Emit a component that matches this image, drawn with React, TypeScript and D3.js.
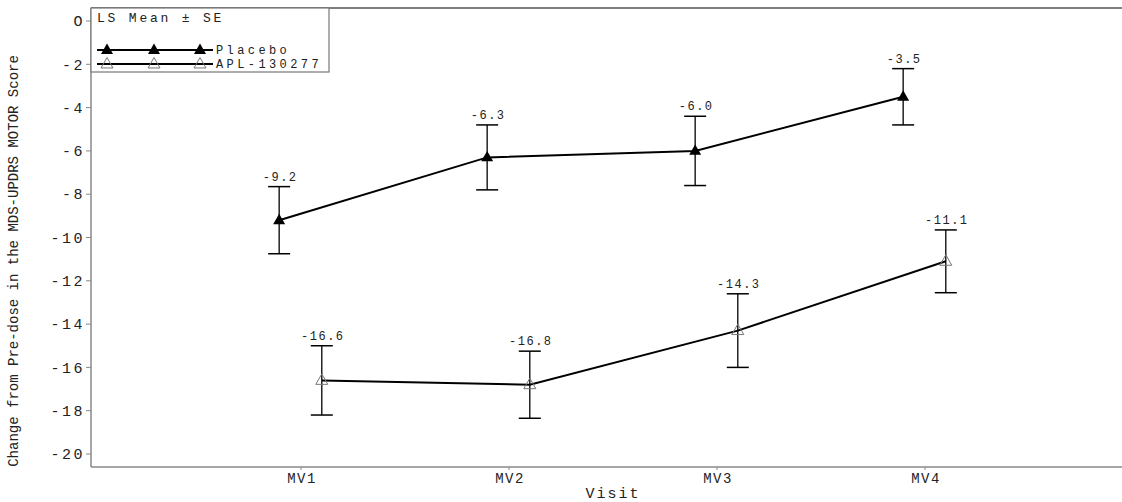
import React from "react";
import * as d3 from "d3";

const visits = ["MV1", "MV2", "MV3", "MV4"];
const placeboMean = [-9.2, -6.3, -6.0, -3.5];
const placeboSE = [1.55, 1.5, 1.6, 1.3];
const aplMean = [-16.6, -16.8, -14.3, -11.1];
const aplSE = [1.6, 1.55, 1.7, 1.45];
const yTicks = [0, -2, -4, -6, -8, -10, -12, -14, -16, -18, -20];

const W = 1122, H = 502;
const L = 91, T = 8, B = 467;
const FONT = "'Liberation Mono', 'DejaVu Sans Mono', monospace";

export default function App() {
  const x = d3.scaleLinear().domain([0, 5]).range([93, 93 + 5 * 208]);
  const y = d3.scaleLinear().domain([0, -20]).range([21, 454]);
  const line = d3.line<[number, number]>().x(d => d[0]).y(d => d[1]);

  const series = [
    { name: "Placebo", mean: placeboMean, se: placeboSE, off: -0.105, filled: true },
    { name: "APL-130277", mean: aplMean, se: aplSE, off: 0.1, filled: false },
  ];

  const tri = (cx: number, cy: number, s: number) => {
    const h = s * 0.87;
    return `M${cx},${cy - h * 0.62}L${cx + s / 2},${cy + h * 0.38}L${cx - s / 2},${cy + h * 0.38}Z`;
  };

  const marker = (cx: number, cy: number, filled: boolean, key: string) =>
    filled ? (
      <path key={key} d={tri(cx, cy, 12)} fill="#000" />
    ) : (
      <path key={key} d={tri(cx, cy, 12)} fill="none" stroke="#777" strokeWidth={1} />
    );

  return (
    <svg width={W} height={H} style={{ position: "absolute", left: 0, top: 0, background: "#fff" }}>
      <rect x={0} y={0} width={W} height={H} fill="#fff" />
      {/* frame */}
      <line x1={L} x2={W} y1={T} y2={T} stroke="#555" strokeWidth={1.5} />
      <line x1={L} x2={L} y1={T} y2={B} stroke="#888" strokeWidth={1.5} />
      <line x1={L} x2={W} y1={B} y2={B} stroke="#888" strokeWidth={1.5} />
      {/* y ticks */}
      {yTicks.map(t => (
        <g key={t}>
          <line x1={L - 5} x2={L} y1={y(t)} y2={y(t)} stroke="#888" strokeWidth={1} />
          <text x={L - 6} y={y(t)} dy="0.35em" textAnchor="end" fontFamily={FONT} fontSize={15} letterSpacing={2.5} fill="#222">
            {t === 0 ? "O" : String(t)}
          </text>
        </g>
      ))}
      {/* x ticks */}
      {visits.map((v, i) => (
        <g key={v}>
          <line x1={x(i + 1)} x2={x(i + 1)} y1={B} y2={B + 3} stroke="#888" strokeWidth={1} />
          <text x={x(i + 1) + 1} y={B + 16} textAnchor="middle" fontFamily={FONT} fontSize={14} letterSpacing={1.5} fill="#222">
            {v}
          </text>
        </g>
      ))}
      <text x={613} y={498} textAnchor="middle" fontFamily={FONT} fontSize={15} letterSpacing={2} fill="#222">Visit</text>
      <text transform={`translate(18,261) rotate(-90)`} textAnchor="middle" fontFamily={FONT} fontSize={14} fill="#222">
        Change from Pre-dose in the MDS-UPDRS MOTOR Score
      </text>
      {/* series */}
      {series.map(s => {
        const pts: [number, number][] = s.mean.map((m, i) => [x(i + 1 + s.off), y(m)]);
        return (
          <g key={s.name}>
            <path d={line(pts) || ""} fill="none" stroke="#000" strokeWidth={2} />
            {s.mean.map((m, i) => {
              const cx = x(i + 1 + s.off);
              const top = y(m + s.se[i]), bot = y(m - s.se[i]);
              return (
                <g key={i}>
                  <line x1={cx} x2={cx} y1={top} y2={bot} stroke="#000" strokeWidth={1.3} />
                  <line x1={cx - 11} x2={cx + 11} y1={top} y2={top} stroke="#000" strokeWidth={1.5} />
                  <line x1={cx - 11} x2={cx + 11} y1={bot} y2={bot} stroke="#000" strokeWidth={1.5} />
                  {marker(cx, y(m), s.filled, "m" + i)}
                  <text x={cx + 1} y={top - 6} textAnchor="middle" fontFamily={FONT} fontSize={12} letterSpacing={1.5} fill="#222">
                    {m.toFixed(1)}
                  </text>
                </g>
              );
            })}
          </g>
        );
      })}
      {/* legend */}
      <rect x={L} y={T} width={238} height={64} fill="#fff" stroke="#777" strokeWidth={1.2} />
      <text x={97} y={22} fontFamily={FONT} fontSize={13} letterSpacing={2.8} fill="#222">LS Mean ± SE</text>
      {series.map((s, k) => {
        const ly = k === 0 ? 50 : 64;
        return (
          <g key={s.name}>
            <line x1={97} x2={213} y1={ly} y2={ly} stroke="#000" strokeWidth={2} />
            {[107, 154, 200].map((mx, j) => marker(mx, ly, s.filled, s.name + j))}
            <text x={216} y={ly} dy="0.35em" fontFamily={FONT} fontSize={12} letterSpacing={3.4} fill="#222">{s.name}</text>
          </g>
        );
      })}
    </svg>
  );
}
